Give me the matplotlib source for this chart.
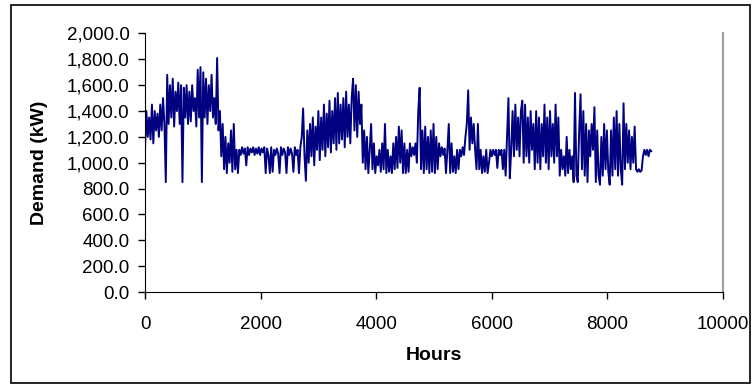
import matplotlib.pyplot as plt
import matplotlib.patches as mpatches
import numpy as np

# ================== DATA ==================
# daily readings (one every 24 h), kW
demand = [
    1100, 1400, 1200, 1350, 1180, 1450, 1150, 1400, 1250, 1380,
    1200, 1450, 1250, 1500, 1300, 850, 1680, 1300, 1600, 1350,
    1650, 1280, 1550, 1400, 1620, 1300, 1600, 850, 1580, 1350,
    1600, 1300, 1550, 1320, 1600, 1400, 1500, 1280, 1720, 1350,
    1740, 850, 1700, 1350, 1650, 1300, 1600, 1400, 1680, 1350,
    1500, 1300, 1810, 1250, 1400, 1050, 1300, 950, 1200, 920,
    1150, 1000, 1250, 930, 1300, 950, 1100, 920, 1100, 1060,
    1120, 1070, 1110, 980, 1120, 1060, 1110, 1080, 1120, 1060,
    1110, 1070, 1120, 1060, 1110, 1080, 1120, 920, 1110, 1060,
    920, 1120, 930, 1100, 1060, 1110, 1070, 920, 1120, 1060,
    1110, 1080, 920, 1120, 1060, 1110, 1070, 930, 1120, 1060,
    1100, 920, 1120, 1200, 1420, 1050, 860, 1250, 1000, 1300,
    1050, 1350, 980, 1280, 1100, 1400, 1020, 1350, 1100, 1450,
    1050, 1380, 1120, 1480, 1080, 1400, 1150, 1500, 1100, 1540,
    1150, 1450, 1180, 1500, 1120, 1550, 1200, 1450, 1150, 1500,
    1650, 1250, 1600, 1200, 1550, 1300, 1450, 1000, 1250, 950,
    1200, 920, 1100, 1300, 950, 1150, 920, 1050, 980, 1100,
    930, 1150, 950, 1300, 920, 1100, 930, 1050, 920, 1150,
    950, 1200, 960, 1280, 1000, 1250, 920, 1150, 920, 1100,
    930, 1150, 1050, 1120, 1060, 1150, 1000, 1400, 1580, 950,
    1250, 920, 1280, 950, 1200, 920, 1250, 930, 1300, 920,
    1200, 950, 1150, 1050, 1120, 1060, 1110, 920, 1100, 1300,
    920, 1150, 930, 1050, 920, 1100, 950, 1100, 1050, 1120,
    1060, 1200, 1300, 1560, 1100, 1350, 1150, 1300, 1100, 950,
    1300, 950, 1100, 920, 1050, 930, 1100, 920, 1000, 1100,
    1050, 1100, 1060, 1100, 960, 1100, 1060, 1100, 950, 1100,
    900, 1200, 1500, 880, 1100, 1400, 1050, 1450, 1100, 1350,
    1050, 1400, 1480, 1000, 1450, 1050, 1350, 1000, 1400, 1100,
    1300, 950, 1400, 1000, 1350, 950, 1300, 1050, 1450, 1000,
    1350, 950, 1400, 1050, 1300, 1000, 1450, 1050, 1350, 900,
    1100, 950, 1050, 900, 1200, 920, 1100, 950, 1050, 850,
    1540, 900, 850, 1250, 1530, 950, 1400, 900, 1300, 850,
    1250, 1050, 1300, 1100, 1430, 850, 1250, 900, 830, 1200,
    900, 1300, 950, 1250, 930, 830, 1250, 900, 1350, 950,
    1400, 900, 1300, 950, 830, 1460, 950, 1300, 1000, 1250,
    950, 1200, 1000, 1280, 950, 930, 950, 930, 940, 1050,
    1100, 1060, 1100, 1050, 1100, 1090,
]
hours = np.arange(len(demand)) * 24

x_ticks = [0, 2000, 4000, 6000, 8000, 10000]
y_ticks = [0, 200, 400, 600, 800, 1000, 1200, 1400, 1600, 1800, 2000]

# ================== PLOT ==================
plt.rcParams['font.family'] = ['Liberation Sans', 'DejaVu Sans']

fig = plt.figure(figsize=(7.56, 3.88), dpi=100)
ax = fig.add_axes([0.1918, 0.2474, 0.7645, 0.6663])

ax.plot(hours, demand, color='#000080', linewidth=1.4)

ax.set_xlim(0, 10000)
ax.set_ylim(0, 2000)
ax.set_xticks(x_ticks)
ax.set_yticks(y_ticks)
ax.set_yticklabels([f"{v:,.1f}" for v in y_ticks])
ax.tick_params(direction='out', length=5, width=1, labelsize=13.5, colors='black')
ax.tick_params(axis='x', pad=12)
ax.tick_params(axis='y', pad=6)

ax.set_xlabel("Hours", fontsize=14, fontweight='bold')
ax.set_ylabel("Demand (kW)", fontsize=14, fontweight='bold')
ax.xaxis.label.set_va('center')
ax.yaxis.label.set_va('center')
ax.xaxis.set_label_coords(0.5, -0.244)
ax.yaxis.set_label_coords(-0.182, 0.5)

ax.spines['top'].set_visible(False)
ax.spines['right'].set_color('#a0a0a0')
ax.spines['right'].set_linewidth(1.5)

# outer chart border
fig.patches.append(mpatches.Rectangle(
    (11 / 756, 5 / 388), 739 / 756, 378 / 388,
    transform=fig.transFigure, fill=False, edgecolor='black', linewidth=1.2))

fig.savefig("out.png", dpi=100)
